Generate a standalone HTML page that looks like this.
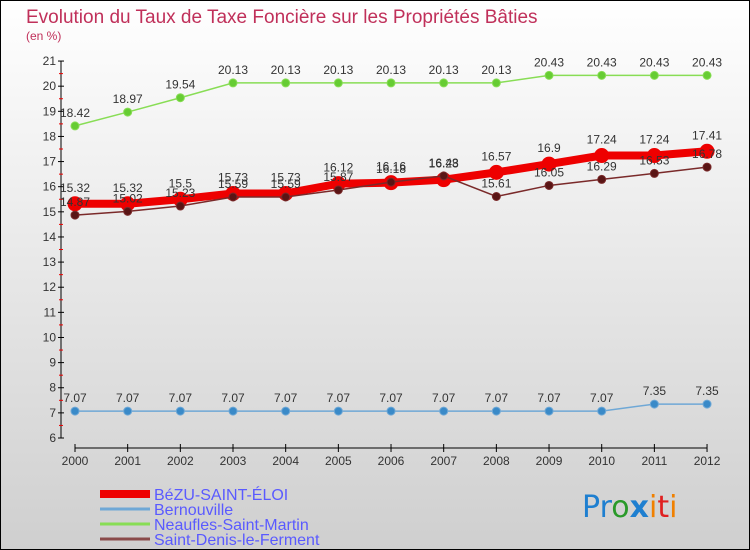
<!DOCTYPE html>
<html><head><meta charset="utf-8"><style>
body{margin:0}
svg{display:block;font-family:"Liberation Sans",sans-serif}
</style></head><body>
<svg id="c" width="750" height="550">
<defs><linearGradient id="bg" x1="0" y1="0" x2="0" y2="1"><stop offset="0" stop-color="#ffffff"/><stop offset="1" stop-color="#cfcfcf"/></linearGradient></defs>
<rect x="0.5" y="0.5" width="749" height="549" fill="url(#bg)" stroke="#000"/>
<text x="26" y="23" font-size="19" fill="#c0305a">Evolution du Taux de Taxe Foncière sur les Propriétés Bâties</text>
<text x="26" y="40" font-size="12" fill="#c0305a">(en %)</text>
<g id="axes"></g><g id="series"></g><g id="legend"></g>
<text x="582" y="517" font-size="30" font-family="DejaVu Sans"><tspan fill="#1e7fd0">Pr</tspan><tspan fill="#2a9a2a">o</tspan><tspan fill="#1e7fd0" font-weight="bold">x</tspan><tspan fill="#f08000">i</tspan><tspan fill="#e02020">t</tspan><tspan fill="#f08000">i</tspan></text>
</svg>
<script>
const years=[2000,2001,2002,2003,2004,2005,2006,2007,2008,2009,2010,2011,2012];
const yTicks=[6,7,8,9,10,11,12,13,14,15,16,17,18,19,20,21];
const seriesNames=["BéZU-SAINT-ÉLOI","Bernouville","Neaufles-Saint-Martin","Saint-Denis-le-Ferment"];
const bezu=[15.32,15.32,15.5,15.73,15.73,16.12,16.16,16.28,16.57,16.9,17.24,17.24,17.41];
const bernouville=[7.07,7.07,7.07,7.07,7.07,7.07,7.07,7.07,7.07,7.07,7.07,7.35,7.35];
const neaufles=[18.42,18.97,19.54,20.13,20.13,20.13,20.13,20.13,20.13,20.43,20.43,20.43,20.43];
const saintDenis=[14.87,15.02,15.23,15.59,15.59,15.87,16.18,16.43,15.61,16.05,16.29,16.53,16.78];
const NS="http://www.w3.org/2000/svg";
const x=i=>75+i*52.67;
const y=v=>438-(v-6)*25.13;
function mk(t,a,p,txt){const e=document.createElementNS(NS,t);for(const k in a)e.setAttribute(k,a[k]);if(txt!=null)e.textContent=txt;p.appendChild(e);return e;}
const ax=document.getElementById('axes');
let e=mk('line',{x1:61,y1:y(21),x2:61,y2:y(6),stroke:'#000'},ax);

e=mk('line',{x1:75,y1:448,x2:707,y2:448,stroke:'#000'},ax);

yTicks.forEach(v=>{
 mk('line',{x1:58,y1:y(v),x2:64,y2:y(v),stroke:'#000'},ax);
 if(v<21)mk('line',{x1:59,y1:y(v+0.5),x2:63,y2:y(v+0.5),stroke:'#e00'},ax);
 e=mk('text',{x:56,y:y(v)+4,'font-size':12,'text-anchor':'end',fill:'#333'},ax,v);
 
});
years.forEach((yr,i)=>{
 mk('line',{x1:x(i),y1:444,x2:x(i),y2:452,stroke:'#000'},ax);
 e=mk('text',{x:x(i),y:465,'font-size':12,'text-anchor':'middle',fill:'#333'},ax,yr);
 
});
const sg=document.getElementById('series');
function draw(data,color,lw,r,name,dy,dark){
 const g=mk('g',{},sg);
 
 mk('polyline',{points:data.map((v,i)=>x(i)+','+y(v)).join(' '),fill:'none',stroke:color,'stroke-width':lw},g);
 data.forEach((v,i)=>{
  const c=mk('circle',{cx:x(i),cy:y(v),r:r,fill:dark,stroke:color,'stroke-width':1},g);
  
  const t=mk('text',{x:x(i),y:y(v)+dy,'font-size':12,'text-anchor':'middle',fill:'#333'},g,v);
  
 });
}
draw(neaufles,'#88dd55',1.5,4,'series-neaufles',-9,'#66cc33');
draw(bernouville,'#6fa8d6',1.5,4,'series-bernouville',-9,'#3a8ac8');
draw(bezu,'#ee0000',8,7,'series-bezu',-12,'#ee0000');
draw(saintDenis,'#7a2a2a',1.5,4,'series-saint-denis',-9,'#5a1515');
const lg=document.getElementById('legend');
const lc=['#ee0000','#6fa8d6','#88dd55','#8a4a4a'];const lw=[8,3,3,3];
seriesNames.forEach((n,i)=>{
 const yy=494+i*15;
 const l=mk('line',{x1:100,y1:yy,x2:150,y2:yy,stroke:lc[i],'stroke-width':lw[i]},lg);
 
 const t=mk('text',{x:154,y:yy+6,'font-size':16,fill:'#5a5aff'},lg,n);
 
});
</script>
</body></html>
